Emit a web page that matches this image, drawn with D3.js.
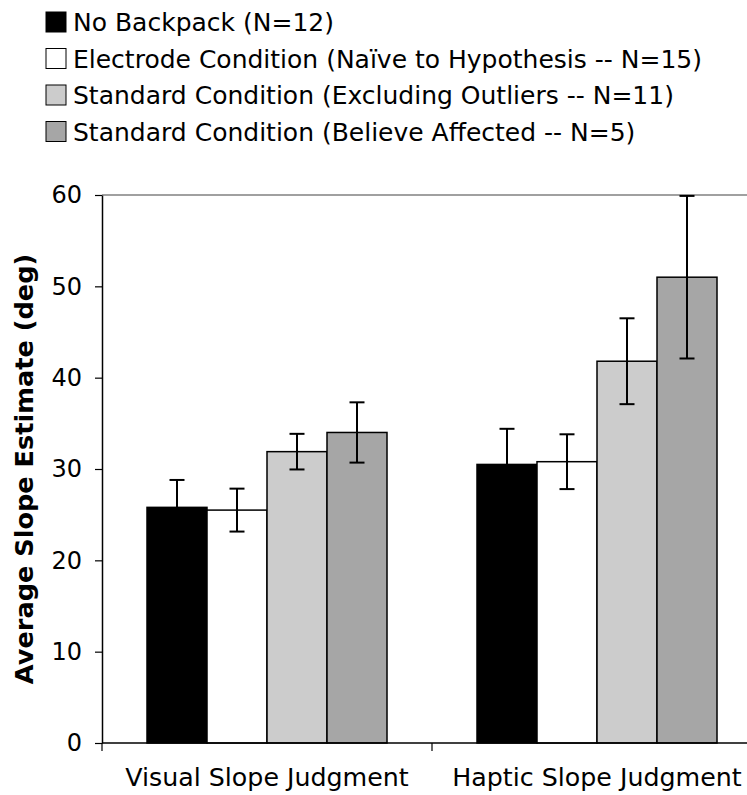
<!DOCTYPE html>
<html>
<head>
<meta charset="utf-8">
<script src="https://cdn.jsdelivr.net/npm/d3@7"></script>
<style>
    body { margin: 0; background: #fff; }
    svg text { font-family: Verdana, "DejaVu Sans", sans-serif; fill: #000; }
</style>
</head>
<body>
<div id="svg_container"></div>
<script>
// chart data
var categories = ["Visual Slope Judgment", "Haptic Slope Judgment"];
var seriesNames = [
    "No Backpack (N=12)",
    "Electrode Condition (Na\u00efve to Hypothesis -- N=15)",
    "Standard Condition (Excluding Outliers -- N=11)",
    "Standard Condition (Believe Affected -- N=5)"
];
var seriesColors = ["#000000", "#ffffff", "#cccccc", "#a6a6a6"];
var visualMeans = [25.8, 25.5, 31.9, 34.0];
var visualErrors = [3.0, 2.35, 1.95, 3.3];
var hapticMeans = [30.5, 30.8, 41.8, 51.0];
var hapticErrors = [3.9, 3.0, 4.7, 8.9];
var yTicks = [0, 10, 20, 30, 40, 50, 60];

var width = 747, height = 795;
var margin = {top: 195, left: 102, bottom: 52};
var plotRight = 762;

var rows = [];
[visualMeans, hapticMeans].forEach(function (means, ci) {
    var errs = ci === 0 ? visualErrors : hapticErrors;
    means.forEach(function (m, si) {
        rows.push({cat: categories[ci], series: seriesNames[si], color: seriesColors[si], value: m, err: errs[si]});
    });
});

var svg = d3.select("#svg_container")
        .append("svg")
        .attr("width", width)
        .attr("height", height);

var x0 = d3.scaleBand()
        .domain(categories)
        .range([margin.left, plotRight])
        .padding(0);
var x1 = d3.scaleBand()
        .domain(seriesNames)
        .range([0, x0.bandwidth()])
        .paddingInner(0)
        .paddingOuter(0.75);
var y = d3.scaleLinear()
        .domain([0, 60])
        .range([height - margin.bottom, margin.top]);

// plot area top border
svg.append("line")
        .attr("x1", margin.left)
        .attr("x2", plotRight)
        .attr("y1", y(60))
        .attr("y2", y(60))
        .attr("stroke", "#808080")
        .attr("stroke-width", 1.5);

// bars
svg.append("g")
        .selectAll("rect")
        .data(rows)
        .enter()
        .append("rect")
        .attr("x", function (d) { return x0(d.cat) + x1(d.series); })
        .attr("y", function (d) { return y(d.value); })
        .attr("width", x1.bandwidth())
        .attr("height", function (d) { return y(0) - y(d.value); })
        .attr("fill", function (d) { return d.color; })
        .attr("stroke", "#000")
        .attr("stroke-width", 1.5);

// error bars
var eb = svg.append("g")
        .attr("stroke", "#000")
        .attr("stroke-width", 2)
        .selectAll("g")
        .data(rows)
        .enter()
        .append("g");
eb.append("line")
        .attr("x1", function (d) { return x0(d.cat) + x1(d.series) + x1.bandwidth() / 2; })
        .attr("x2", function (d) { return x0(d.cat) + x1(d.series) + x1.bandwidth() / 2; })
        .attr("y1", function (d) { return y(d.value - d.err); })
        .attr("y2", function (d) { return y(d.value + d.err); });
[-1, 1].forEach(function (s) {
    eb.append("line")
            .attr("x1", function (d) { return x0(d.cat) + x1(d.series) + x1.bandwidth() / 2 - 7.5; })
            .attr("x2", function (d) { return x0(d.cat) + x1(d.series) + x1.bandwidth() / 2 + 7.5; })
            .attr("y1", function (d) { return y(d.value + s * d.err); })
            .attr("y2", function (d) { return y(d.value + s * d.err); });
});

// y axis
var yAxis = svg.append("g")
        .attr("transform", "translate(" + margin.left + ",0)")
        .call(d3.axisLeft(y).tickValues(yTicks).tickSize(7).tickPadding(13).tickSizeOuter(0));
yAxis.select(".domain").attr("stroke", "#000").attr("stroke-width", 1.5);
yAxis.selectAll(".tick line").attr("stroke", "#000").attr("stroke-width", 1.2);
yAxis.selectAll(".tick text").attr("font-size", "24px").attr("font-family", null);

// x axis: ticks at category boundaries
svg.append("line")
        .attr("x1", margin.left)
        .attr("x2", plotRight)
        .attr("y1", y(0))
        .attr("y2", y(0))
        .attr("stroke", "#000")
        .attr("stroke-width", 1.5);
svg.append("g")
        .selectAll("line")
        .data(categories.concat(["end"]))
        .enter()
        .append("line")
        .attr("x1", function (d, i) { return margin.left + i * x0.bandwidth(); })
        .attr("x2", function (d, i) { return margin.left + i * x0.bandwidth(); })
        .attr("y1", y(0))
        .attr("y2", y(0) + 8)
        .attr("stroke", "#000")
        .attr("stroke-width", 1.2);
svg.append("g")
        .selectAll("text")
        .data(categories)
        .enter()
        .append("text")
        .attr("x", function (d) { return x0(d) + x0.bandwidth() / 2; })
        .attr("y", 786)
        .attr("text-anchor", "middle")
        .attr("font-size", "25.3px")
        .text(function (d) { return d; });

// y axis title
svg.append("text")
        .attr("transform", "translate(33," + ((y(0) + y(60)) / 2) + ")rotate(-90)")
        .attr("text-anchor", "middle")
        .attr("font-size", "25.6px")
        .attr("font-weight", "bold")
        .text("Average Slope Estimate (deg)");

// legend
var legend = svg.append("g")
        .selectAll("g")
        .data(seriesNames)
        .enter()
        .append("g")
        .attr("transform", function (d, i) { return "translate(46," + (12 + i * 36.5) + ")"; });
legend.append("rect")
        .attr("width", 20)
        .attr("height", 20)
        .attr("fill", function (d, i) { return seriesColors[i]; })
        .attr("stroke", "#000")
        .attr("stroke-width", 1);
legend.append("text")
        .attr("x", 27)
        .attr("y", 19)
        .attr("font-size", "25px")
        .text(function (d) { return d; });
</script>
</body>
</html>
